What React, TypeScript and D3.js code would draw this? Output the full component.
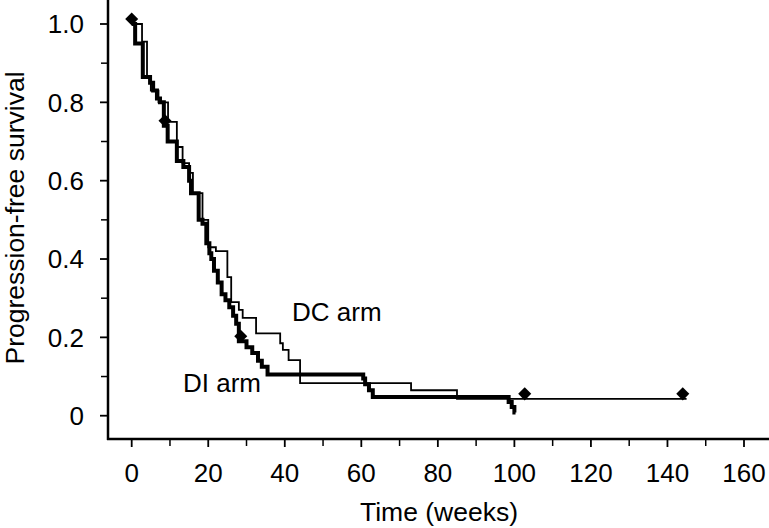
import React from "react";
import { scaleLinear, line, curveStepAfter, symbol, symbolSquare } from "d3";

// DI arm (thick line): time in weeks, survival after each step
const diTimes = [0, 0.9, 2.9, 4.8, 5.6, 6.6, 7.4, 8.4, 9.4, 11.8, 13.5, 15, 15.5, 17.5, 18.5, 19.5, 20.3, 20.8, 21.5, 22.5, 23.5, 24.5, 25.5, 26.5, 27.3, 28, 30, 31.5, 33, 34, 35.5, 60.5, 61, 62, 63, 98.5, 99.3, 100, 100.3];
const diSurv = [1.0, 0.95, 0.865, 0.85, 0.83, 0.81, 0.8, 0.74, 0.7, 0.65, 0.635, 0.6, 0.568, 0.5, 0.49, 0.44, 0.415, 0.4, 0.37, 0.34, 0.31, 0.295, 0.277, 0.255, 0.235, 0.19, 0.175, 0.16, 0.14, 0.125, 0.105, 0.095, 0.08, 0.065, 0.048, 0.035, 0.022, 0.008, 0.008];

// DC arm (thin line)
const dcTimes = [0, 2.7, 4, 5, 7, 9.5, 11.8, 13.3, 15, 16, 18.5, 20, 22, 25, 26, 28, 29, 32.5, 38.8, 39.5, 41, 44, 73, 85, 145];
const dcSurv = [1.0, 0.955, 0.865, 0.83, 0.8, 0.75, 0.686, 0.645, 0.62, 0.568, 0.5, 0.43, 0.42, 0.354, 0.29, 0.27, 0.25, 0.21, 0.185, 0.168, 0.142, 0.083, 0.065, 0.043, 0.043];

// censored observations (diamonds)
const censorTimes = [0, 8.7, 28.5, 102.7, 144];
const censorSurv = [1.0, 0.74, 0.19, 0.043, 0.043];

const xTicks = [0, 20, 40, 60, 80, 100, 120, 140, 160];
const xMinor = [10, 30, 50, 70, 90, 110, 130, 150];
const yTicks = [0, 0.2, 0.4, 0.6, 0.8, 1.0];
const yTickLabels = ["0", "0.2", "0.4", "0.6", "0.8", "1.0"];
const yMinor = [0.1, 0.3, 0.5, 0.7, 0.9];

const W = 769;
const H = 528;
const font = "'Liberation Sans', Arial, Helvetica, sans-serif";

export default function App() {
  const x = scaleLinear().domain([0, 160]).range([131.7, 744]);
  const y = scaleLinear().domain([0, 1]).range([415.7, 24]);

  const axisX = 108;
  const axisY = 439;

  const stepLine = line<[number, number]>()
    .x(d => x(d[0]))
    .y(d => y(d[1]))
    .curve(curveStepAfter);

  const diPts = diTimes.map((t, i) => [t, diSurv[i]] as [number, number]);
  const dcPts = dcTimes.map((t, i) => [t, dcSurv[i]] as [number, number]);
  // a square turned 45 degrees gives the wide diamond of the original
  const diamond = symbol().type(symbolSquare).size(85)();

  return (
    <svg width={W} height={H} style={{ position: "absolute", left: 0, top: 0, background: "#fff" }} fontFamily={font}>
      {/* axes */}
      <line x1={axisX} y1={0} x2={axisX} y2={axisY + 1} stroke="#000" strokeWidth={2.5} />
      <line x1={axisX - 1} y1={axisY} x2={W} y2={axisY} stroke="#000" strokeWidth={2.5} />

      {yTicks.map((v, i) => (
        <g key={"y" + i}>
          <line x1={axisX - 8} x2={axisX} y1={y(v)} y2={y(v)} stroke="#000" strokeWidth={1.8} />
          <text x={84} y={y(v)} dy="0.36em" textAnchor="end" fontSize={26}>{yTickLabels[i]}</text>
        </g>
      ))}
      {yMinor.map((v, i) => (
        <line key={"ym" + i} x1={axisX - 7} x2={axisX} y1={y(v)} y2={y(v)} stroke="#000" strokeWidth={1.5} />
      ))}

      {xTicks.map((t, i) => (
        <g key={"x" + i}>
          <line x1={x(t)} x2={x(t)} y1={axisY} y2={axisY + 8} stroke="#000" strokeWidth={1.8} />
          <text x={x(t)} y={482} textAnchor="middle" fontSize={26}>{t}</text>
        </g>
      ))}
      {xMinor.map((t, i) => (
        <line key={"xm" + i} x1={x(t)} x2={x(t)} y1={axisY} y2={axisY + 7} stroke="#000" strokeWidth={1.5} />
      ))}

      <text x={439} y={521} textAnchor="middle" fontSize={26.5}>Time (weeks)</text>
      <text transform="translate(24, 218) rotate(-90)" textAnchor="middle" fontSize={26.5}>Progression-free survival</text>

      {/* curves */}
      <path d={stepLine(dcPts) || ""} fill="none" stroke="#000" strokeWidth={1.8} />
      <path d={stepLine(diPts) || ""} fill="none" stroke="#000" strokeWidth={4} />

      {censorTimes.map((t, i) => (
        <path key={"c" + i} d={diamond || ""} transform={`translate(${x(t)}, ${y(censorSurv[i]) - 5}) rotate(45)`} fill="#000" />
      ))}

      <text x={292} y={321} fontSize={26}>DC arm</text>
      <text x={183} y={392} fontSize={26}>DI arm</text>
    </svg>
  );
}
